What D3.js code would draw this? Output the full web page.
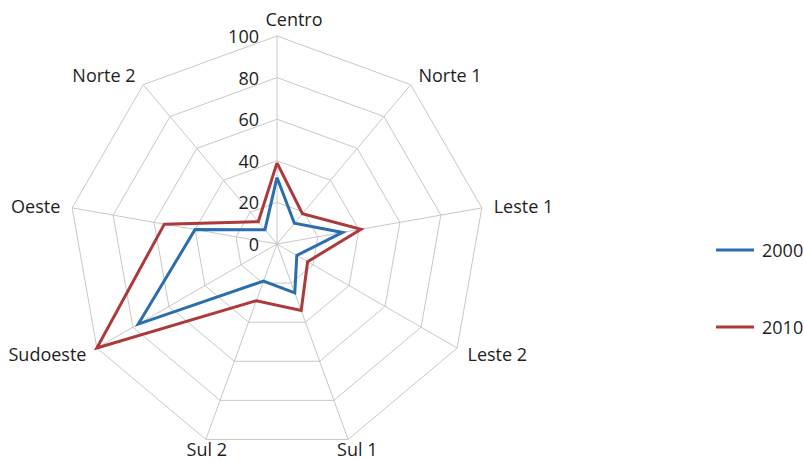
<!DOCTYPE html>
<html lang="pt">
  <head>
    <meta charset="UTF-8" />
    <title>Radar</title>
    <script src="https://d3js.org/d3.v7.min.js"></script>
    <style>
      body { margin: 0; background: #fff; }
      text { font-family: "Open Sans", sans-serif; fill: #1e1e1e; font-size: 18px; }
    </style>
  </head>
  <body>
    <svg id="canvas"></svg>
  </body>
  <script>
    let categories = ["Centro", "Norte 1", "Leste 1", "Leste 2", "Sul 1", "Sul 2", "Sudoeste", "Oeste", "Norte 2"];
    let values2000 = [32, 13, 32, 11, 25, 19, 77, 40, 9];
    let values2010 = [39, 19, 41, 17, 34, 29, 100, 55, 14];
    let ringTicks = [0, 20, 40, 60, 80, 100];
    let seriesNames = ["2000", "2010"];

    let width = 804;
    let height = 461;
    let cx = 277;
    let cy = 244;
    let radius = 208;
    let colors = ["#2a6ead", "#ad3a3b"];

    let svg = d3.select("svg").attr("width", width).attr("height", height);

    let rScale = d3.scaleLinear().domain([0, 100]).range([0, radius]);
    let angle = d3.scalePoint().domain(categories).range([0, 2 * Math.PI * (categories.length - 1) / categories.length]);

    let pt = (cat, v) => {
      let a = angle(cat);
      return [cx + rScale(v) * Math.sin(a), cy - rScale(v) * Math.cos(a)];
    };

    let grid = svg.append("g");

    // rings
    ringTicks.slice(1).forEach((t) => {
      grid.append("polygon")
        .attr("points", categories.map((c) => pt(c, t).join(",")).join(" "))
        .attr("fill", "none")
        .attr("stroke", "#c8c8c8")
        .attr("stroke-width", 1);
    });

    // spokes
    categories.forEach((c) => {
      let p = pt(c, 100);
      grid.append("line")
        .attr("x1", cx).attr("y1", cy)
        .attr("x2", p[0]).attr("y2", p[1])
        .attr("stroke", "#c8c8c8")
        .attr("stroke-width", 1);
    });

    // ring labels
    ringTicks.forEach((t) => {
      svg.append("text")
        .attr("x", cx - 18)
        .attr("y", cy - rScale(t))
        .attr("text-anchor", "end")
        .attr("dominant-baseline", "central")
        .text(t);
    });

    // category labels
    categories.forEach((c) => {
      let a = angle(c);
      let s = Math.sin(a), co = Math.cos(a);
      let p = pt(c, 100 + 12 * 100 / radius);
      let anchor = Math.abs(s) < 0.5 ? "middle" : (s > 0 ? "start" : "end");
      let dy = co > 0.9 ? -5 : (co < -0.9 ? -2 : 0);
      let dx = co > 0.9 ? 17 : (co < -0.9 ? 5 : 0);
      svg.append("text")
        .attr("x", p[0] + dx)
        .attr("y", p[1] + dy)
        .attr("text-anchor", anchor)
        .attr("dominant-baseline", "central")
        .text(c);
    });

    // series
    let line = d3.line();
    [values2000, values2010].forEach((vals, i) => {
      let pts = categories.map((c, j) => pt(c, vals[j]));
      pts.push(pts[0]);
      svg.append("path")
        .attr("d", line(pts))
        .attr("fill", "none")
        .attr("stroke", colors[i])
        .attr("stroke-width", 3)
        .attr("stroke-linejoin", "miter");
    });

    // legend
    let legendY = [250, 327];
    seriesNames.forEach((n, i) => {
      svg.append("line")
        .attr("x1", 716).attr("x2", 754)
        .attr("y1", legendY[i]).attr("y2", legendY[i])
        .attr("stroke", colors[i])
        .attr("stroke-width", 3);
      svg.append("text")
        .attr("x", 762)
        .attr("y", legendY[i])
        .attr("dominant-baseline", "central")
        .text(n);
    });
  </script>
</html>
